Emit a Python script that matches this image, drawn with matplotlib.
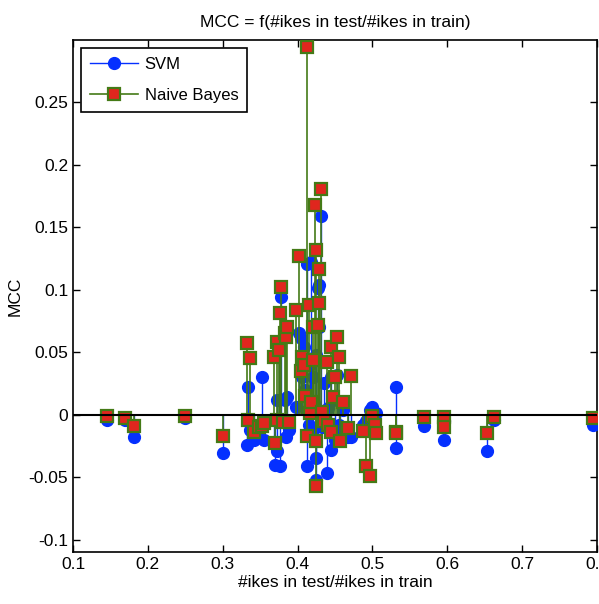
import matplotlib
matplotlib.use("Agg")
import matplotlib.pyplot as plt
from matplotlib.lines import Line2D
import numpy as np

plt.rcParams['font.family'] = ['Liberation Sans', 'DejaVu Sans']

# ratio #likes in test / #likes in train
ratio = [0.145, 0.169, 0.181, 0.250, 0.300,
         0.333, 0.334, 0.336, 0.342, 0.348, 0.353, 0.355, 0.369, 0.370, 0.372,
         0.373, 0.375, 0.376, 0.378, 0.380, 0.383, 0.384, 0.386, 0.388, 0.398,
         0.402, 0.404, 0.406, 0.408, 0.410, 0.413, 0.413, 0.415, 0.416, 0.418,
         0.420, 0.421, 0.423, 0.424, 0.424, 0.425, 0.427, 0.428, 0.429, 0.431,
         0.432, 0.435, 0.439, 0.441, 0.444, 0.445, 0.447, 0.450, 0.453, 0.455,
         0.456, 0.460, 0.467, 0.471, 0.488, 0.492, 0.497, 0.500, 0.503, 0.505,
         0.531, 0.532, 0.569, 0.595, 0.596, 0.653, 0.662, 0.795]

svm_mcc = [-0.004, -0.004, -0.018, -0.003, -0.031,
           -0.024, 0.022, -0.012, -0.020, -0.018, 0.030, -0.020, -0.022, -0.040, 0.012,
           -0.029, 0.055, -0.041, 0.094, -0.004, 0.012, -0.018, 0.014, -0.012, 0.006,
           0.065, 0.061, 0.030, 0.054, 0.020, -0.041, 0.121, -0.008, 0.040, 0.122,
           -0.012, 0.030, 0.008, 0.048, -0.035, -0.052, 0.101, 0.104, 0.070, 0.159,
           -0.010, 0.025, -0.047, 0.005, -0.028, 0.030, 0.012, -0.020, 0.032, -0.008,
           -0.015, 0.004, -0.018, -0.018, -0.008, -0.005, 0.004, 0.006, -0.010, 0.001,
           0.022, -0.027, -0.009, -0.020, -0.005, -0.029, -0.004, -0.008]

nb_mcc = [-0.001, -0.003, -0.009, -0.001, -0.017,
          0.057, -0.004, 0.045, -0.014, -0.010, -0.009, -0.007, 0.046, -0.023, 0.058,
          -0.004, 0.052, 0.081, 0.102, -0.006, 0.065, 0.062, 0.070, -0.006, 0.084,
          0.127, 0.035, 0.046, 0.040, 0.015, -0.017, 0.294, 0.088, 0.001, 0.010,
          0.070, 0.044, 0.168, 0.132, -0.021, -0.057, 0.072, 0.117, 0.089, 0.181,
          0.002, -0.005, 0.042, -0.008, -0.014, 0.054, 0.014, 0.030, 0.062, 0.046,
          -0.021, 0.010, -0.011, 0.031, -0.013, -0.041, -0.049, -0.001, -0.008, -0.015,
          -0.014, -0.015, -0.002, -0.002, -0.010, -0.015, -0.002, -0.003]

series_labels = ['SVM', 'Naive Bayes']
xticks = [0.1, 0.2, 0.3, 0.4, 0.5, 0.6, 0.7, 0.8]
yticks = [-0.1, -0.05, 0, 0.05, 0.1, 0.15, 0.2, 0.25]

blue = '#0530ff'
green = '#447a16'
red = '#e0261e'

fig = plt.figure(figsize=(5.99, 6.04), dpi=100)
ax = fig.add_axes([0.1219, 0.0861, 0.8748, 0.8477])

x = np.array(ratio)
s = np.array(svm_mcc)
n = np.array(nb_mcc)

ax.vlines(x, 0, s, color=blue, lw=1.0, zorder=2)
ax.plot(x, s, 'o', color=blue, mfc=blue, mec=blue, ms=8.5, zorder=3)
ax.vlines(x, 0, n, color=green, lw=1.2, zorder=4)
ax.plot(x, n, 's', mfc=red, mec=green, mew=1.6, ms=8.5, zorder=5)
ax.axhline(0, color='black', lw=1.5, zorder=6)

ax.set_xlim(0.1, 0.8)
ax.set_ylim(-0.11, 0.30)
ax.set_xticks(xticks)
ax.set_xticklabels([f'{t:g}' for t in xticks])
ax.set_yticks(yticks)
ax.set_yticklabels([f'{t:g}' for t in yticks])
ax.tick_params(direction='in', top=True, right=True, length=5, labelsize=12.5, width=1)
for sp in ax.spines.values():
    sp.set_linewidth(1.2)

ax.set_title('MCC = f(#ikes in test/#ikes in train)', fontsize=12.5, pad=9)
ax.set_xlabel('#ikes in test/#ikes in train', fontsize=12.5, labelpad=2)
ax.set_ylabel('MCC', fontsize=12.5, labelpad=4)

handles = [Line2D([0], [0], color=blue, lw=1, marker='o', mfc=blue, mec=blue, ms=8.5),
           Line2D([0], [0], color=green, lw=1.2, marker='s', mfc=red, mec=green, mew=1.6, ms=8.5)]
leg = ax.legend(handles, series_labels, loc='upper left', fontsize=12, fancybox=False,
                edgecolor='black', framealpha=1, handlelength=2.9, handletextpad=0.4,
                borderaxespad=0.5, labelspacing=1.0, borderpad=0.5)
leg.get_frame().set_linewidth(1.2)

fig.savefig('out.png', dpi=100)
